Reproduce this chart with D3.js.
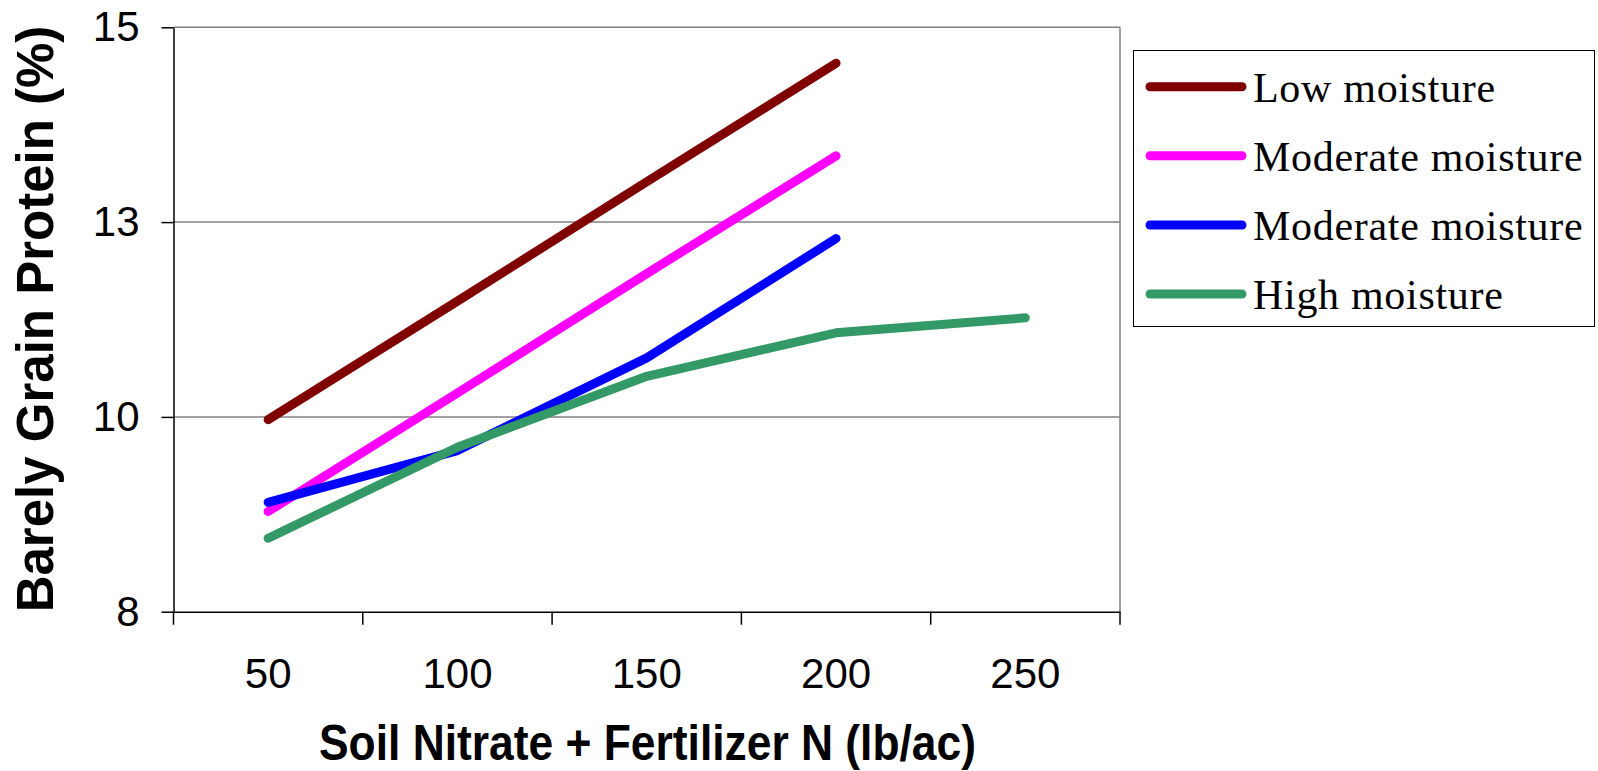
<!DOCTYPE html>
<html>
<head>
<meta charset="utf-8">
<script src="https://cdn.jsdelivr.net/npm/d3@7"></script>
<style>
	body { margin: 0; background: #fff; }
	svg { display: block; }
</style>
</head>
<body>
<div id="chart"></div>
<script>

// chart data
var categories = [50, 100, 150, 200, 250];
var seriesNames = ['Low moisture', 'Moderate moisture', 'Moderate moisture', 'High moisture'];
var lowMoisture = [10.30, 11.72, 13.15, 14.57];
var moderateMoisture1 = [9.20, 10.62, 12.05, 13.46];
var moderateMoisture2 = [9.31, 9.93, 11.04, 12.47];
var highMoisture = [8.88, 9.97, 10.82, 11.34, 11.52];
var yTickValues = [8, 8 + 7 / 3, 8 + 14 / 3, 15];

var colors = ['#800000', '#FF00FF', '#0000FF', '#339966'];
var allSeries = [lowMoisture, moderateMoisture1, moderateMoisture2, highMoisture];

var width = 1598, height = 771;
var plot = { left: 173.5, right: 1120, top: 27.3, bottom: 611.7 };

var svg = d3.select('#chart').append('svg')
		.attr('width', width)
		.attr('height', height);

var x = d3.scaleBand().domain(categories).range([plot.left, plot.right]).padding(0);
var y = d3.scaleLinear().domain([8, 15]).range([plot.bottom, plot.top]);

/**
 * Grid lines + plot frame
 */
var grid = svg.append('g');
grid.selectAll('line').data(yTickValues.slice(1)).enter().append('line')
	.attr('x1', plot.left)
	.attr('x2', plot.right)
	.attr('y1', function(d) { return y(d); })
	.attr('y2', function(d) { return y(d); })
	.attr('stroke', '#808080')
	.attr('stroke-width', 1.5);

svg.append('line')
	.attr('x1', plot.right).attr('x2', plot.right)
	.attr('y1', plot.top).attr('y2', plot.bottom)
	.attr('stroke', '#808080')
	.attr('stroke-width', 1.5);

/**
 * Axes
 */
var yAxis = svg.append('g')
		.attr('transform', 'translate(' + plot.left + ',0)')
		.call(d3.axisLeft(y).tickValues(yTickValues).tickFormat(d3.format('.0f')).tickSizeInner(12).tickSizeOuter(0).tickPadding(22));

var xAxis = svg.append('g')
		.attr('transform', 'translate(0,' + plot.bottom + ')')
		.call(d3.axisBottom(x).tickSize(0).tickPadding(0));

// category axis ticks sit between the categories
xAxis.selectAll('.tick line').remove();
xAxis.selectAll('.ext').data(d3.range(categories.length + 1)).enter().append('line')
	.attr('x1', function(i) { return plot.left + i * x.step(); })
	.attr('x2', function(i) { return plot.left + i * x.step(); })
	.attr('y1', 0)
	.attr('y2', 13)
	.attr('stroke', '#000')
	.attr('stroke-width', 1.5);
xAxis.selectAll('.tick text').attr('y', 76).attr('dy', 0);

svg.selectAll('.domain').attr('stroke', '#000').attr('stroke-width', 1.5);
svg.selectAll('.tick line').attr('stroke', '#000').attr('stroke-width', 1.5);
svg.selectAll('.tick text')
	.style('font-family', 'Liberation Sans, Arial, sans-serif')
	.style('font-size', '42px')
	.attr('fill', '#000');

/**
 * Series lines
 */
var line = d3.line()
		.x(function(d, i) { return x(categories[i]) + x.bandwidth() / 2; })
		.y(function(d) { return y(d); });

svg.append('g').selectAll('path').data(allSeries).enter().append('path')
	.attr('d', line)
	.attr('fill', 'none')
	.attr('stroke', function(d, i) { return colors[i]; })
	.attr('stroke-width', 9)
	.attr('stroke-linecap', 'round')
	.attr('stroke-linejoin', 'round');

/**
 * Axis titles
 */
svg.append('text')
	.attr('x', 319)
	.attr('y', 760)
	.attr('textLength', 657)
	.attr('lengthAdjust', 'spacingAndGlyphs')
	.style('font-family', 'Liberation Sans, Arial, sans-serif')
	.style('font-weight', 'bold')
	.style('font-size', '50px')
	.text('Soil Nitrate + Fertilizer N (lb/ac)');

svg.append('text')
	.attr('transform', 'translate(53,319) rotate(-90)')
	.attr('text-anchor', 'middle')
	.style('font-family', 'Liberation Sans, Arial, sans-serif')
	.style('font-weight', 'bold')
	.style('font-size', '51px')
	.text('Barely Grain Protein (%)');

/**
 * Legend
 */
var legend = svg.append('g');
legend.append('rect')
	.attr('x', 1133.5).attr('y', 50.5)
	.attr('width', 461).attr('height', 276)
	.attr('fill', '#fff')
	.attr('stroke', '#000')
	.attr('stroke-width', 1);

var rowY = [86.7, 155.7, 225, 294];
var items = legend.selectAll('.item').data(seriesNames).enter().append('g')
		.attr('transform', function(d, i) { return 'translate(0,' + rowY[i] + ')'; });

items.append('line')
	.attr('x1', 1150).attr('x2', 1242)
	.attr('y1', 0).attr('y2', 0)
	.attr('stroke', function(d, i) { return colors[i]; })
	.attr('stroke-width', 9)
	.attr('stroke-linecap', 'round');

items.append('text')
	.attr('x', 1253)
	.attr('y', 15)
	.style('font-family', 'Liberation Serif, Times New Roman, serif')
	.style('font-size', '42px')
	.style('letter-spacing', '0.7px')
	.attr('fill', '#000')
	.text(function(d) { return d; });

</script>
</body>
</html>
